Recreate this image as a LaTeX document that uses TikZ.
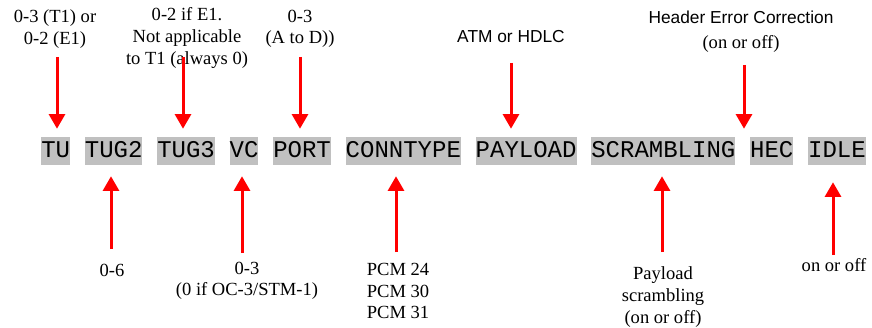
\documentclass[tikz,border=0pt]{standalone}
\usepackage{fontspec}
\setmainfont{Liberation Serif}
\setsansfont{Liberation Sans}
\setmonofont{Liberation Mono}
\usetikzlibrary{positioning,arrows.meta}
\definecolor{fieldgray}{HTML}{C0C0C0}
\begin{document}
\begin{tikzpicture}[x=0.75pt,y=-0.75pt,line cap=butt,node distance=10.7pt,
    field/.style={fill=fieldgray,inner xsep=0pt,inner ysep=0pt,minimum height=21pt,
      text height=10.3pt,text depth=0pt,font=\ttfamily\fontsize{18}{18}\selectfont},
    note/.style={align=center,inner sep=0pt,font=\fontsize{13.9}{16.2}\selectfont},
    sfnote/.style={align=center,inner sep=0pt,font=\sffamily\fontsize{13}{15}\selectfont},
    redarrow/.style={red,line width=2.25pt,-{Triangle[width=12pt,length=11pt]}}]
  \useasboundingbox (0,0) rectangle (872,328);
  % the fields of the string
  \node[field,anchor=west] (tu) at (41,151) {TU};
  \node[field,right=of tu] (tug2) {TUG2};
  \node[field,right=of tug2] (tug3) {TUG3};
  \node[field,right=of tug3] (vc) {VC};
  \node[field,right=of vc] (port) {PORT};
  \node[field,right=of port] (conntype) {CONNTYPE};
  \node[field,right=of conntype] (payload) {PAYLOAD};
  \node[field,right=of payload] (scrambling) {SCRAMBLING};
  \node[field,right=of scrambling] (hec) {HEC};
  \node[field,right=of hec] (idle) {IDLE};
  % notes above
  \node[note] (tuNote) at (55,29) {0-3 (T1) or\\0-2 (E1)};
  \node[note] (tug3Note) at (187,38) {0-2 if E1.\\Not applicable\\to T1 (always 0)};
  \node[note] (portNote) at (300,29) {0-3\\(A to D))};
  \node[sfnote] (payloadNote) at (511,37) {ATM or HDLC};
  \node[sfnote] (hecNote) at (741,17) {Header Error Correction};
  \node[note,below=9pt of hecNote] (hecSub) {(on or off)};
  % notes below
  \node[note] (tug2Note) at (112,270) {0-6};
  \node[note] (vcNote) at (247,281) {0-3\\(0 if OC-3/STM-1)};
  \node[note] (conntypeNote) at (398,291) {PCM 24\\PCM 30\\PCM 31};
  \node[note] (scramblingNote) at (663,297) {Payload\\scrambling\\(on or off)};
  \node[note] (idleNote) at (834,265) {on or off};
  % arrow tails
  \coordinate (tuTail) at (57,57);
  \coordinate (tug3Tail) at (183,57);
  \coordinate (portTail) at (300,57);
  \coordinate (payloadTail) at (511,63);
  \coordinate (hecTail) at (744,65);
  \coordinate (tug2Tail) at (111,249);
  \coordinate (vcTail) at (242,253);
  \coordinate (conntypeTail) at (396,252);
  \coordinate (scramblingTail) at (662,252);
  \coordinate (idleTail) at (833,255);
  \foreach \f in {tu,tug3,port,payload,hec}
    \draw[redarrow,shorten >=6pt] (\f Tail) -- (\f Tail |- \f.north);
  \foreach \f/\s in {tug2/8.25pt,vc/8.25pt,conntype/8.25pt,scrambling/8.25pt,idle/12.75pt}
    \draw[redarrow,shorten >=\s] (\f Tail) -- (\f Tail |- \f.south);
\end{tikzpicture}
\end{document}
